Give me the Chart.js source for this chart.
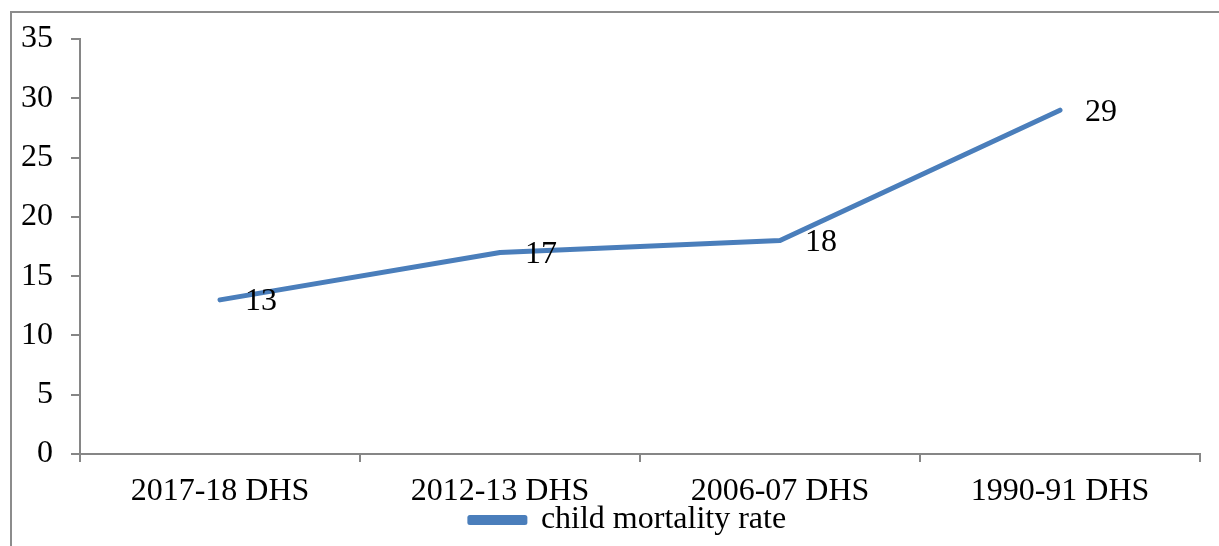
<!DOCTYPE html>
<html>
<head>
<meta charset="utf-8">
<script src="https://cdn.jsdelivr.net/npm/chart.js@4.4.0/dist/chart.umd.min.js"></script>
<style>
  body { margin: 0; background: #fff; }
  #wrap { position: relative; width: 1219px; height: 546px; overflow: hidden; }
  #frame { position: absolute; left: 10px; top: 11px; width: 1300px; height: 600px;
           border-left: 2px solid #8c8c8c; border-top: 2px solid #8c8c8c; }
  canvas { position: absolute; left: 0; top: 0; }
</style>
</head>
<body>
<div id="wrap">
  <div id="frame"></div>
  <canvas id="myChart" width="1219" height="546"></canvas>
</div>
<script>
// data
var surveys = ["2017-18 DHS", "2012-13 DHS", "2006-07 DHS", "1990-91 DHS"];
var mortality = [13, 17, 18, 29];
var seriesName = "child mortality rate";
var yTicks = [0, 5, 10, 15, 20, 25, 30, 35];

var blue = "#4a7ebb";
var axisGray = "#868686";
var serif = "'Liberation Serif', 'Times New Roman', serif";

// value labels to the right of each point
var valueLabels = {
    id: "valueLabels",
    afterDatasetsDraw: function (chart) {
        var ctx = chart.ctx;
        var meta = chart.getDatasetMeta(0);
        ctx.save();
        ctx.font = "32px " + serif;
        ctx.fillStyle = "#000";
        ctx.textAlign = "left";
        ctx.textBaseline = "middle";
        meta.data.forEach(function (pt, i) {
            ctx.fillText(String(mortality[i]), pt.x + 25, pt.y + 2);
        });
        ctx.restore();
    }
};

// legend sits a bit right of centre in the original
var legendShift = {
    id: "legendShift",
    afterLayout: function (chart) {
        chart.legend.left += 28;
        chart.legend.right += 28;
    }
};

var ctx = document.getElementById("myChart").getContext("2d");

var myChart = new Chart(ctx, {
    type: "line",
    data: {
        labels: surveys,
        datasets: [{
            label: seriesName,
            data: mortality,
            borderColor: blue,
            backgroundColor: blue,
            borderWidth: 5,
            borderCapStyle: "round",
            borderJoinStyle: "round",
            pointRadius: 0,
            tension: 0
        }]
    },
    options: {
        responsive: false,
        animation: false,
        layout: { padding: { top: 39, right: 19, left: 0, bottom: 0 } },
        plugins: {
            tooltip: { enabled: false },
            legend: {
                position: "bottom",
                labels: {
                    color: "#000",
                    font: { family: serif, size: 32 },
                    boxWidth: 55,
                    boxHeight: 5,
                    padding: 0
                }
            }
        },
        scales: {
            x: {
                offset: true,
                grid: { offset: true, drawOnChartArea: false, drawTicks: true, tickLength: 8, color: axisGray, lineWidth: 2 },
                border: { color: axisGray, width: 2 },
                ticks: { color: "#000", font: { family: serif, size: 32 }, padding: 10, maxRotation: 0 },
                afterFit: function (s) { s.height = 50; }
            },
            y: {
                min: 0,
                max: 35,
                afterBuildTicks: function (s) { s.ticks = yTicks.map(function (v) { return { value: v }; }); },
                grid: { drawOnChartArea: false, drawTicks: true, tickLength: 9, color: axisGray, lineWidth: 2 },
                border: { color: axisGray, width: 2 },
                ticks: { color: "#000", font: { family: serif, size: 32 }, padding: 18 },
                afterFit: function (s) { s.width = 80; }
            }
        }
    },
    plugins: [valueLabels, legendShift]
});
</script>
</body>
</html>
